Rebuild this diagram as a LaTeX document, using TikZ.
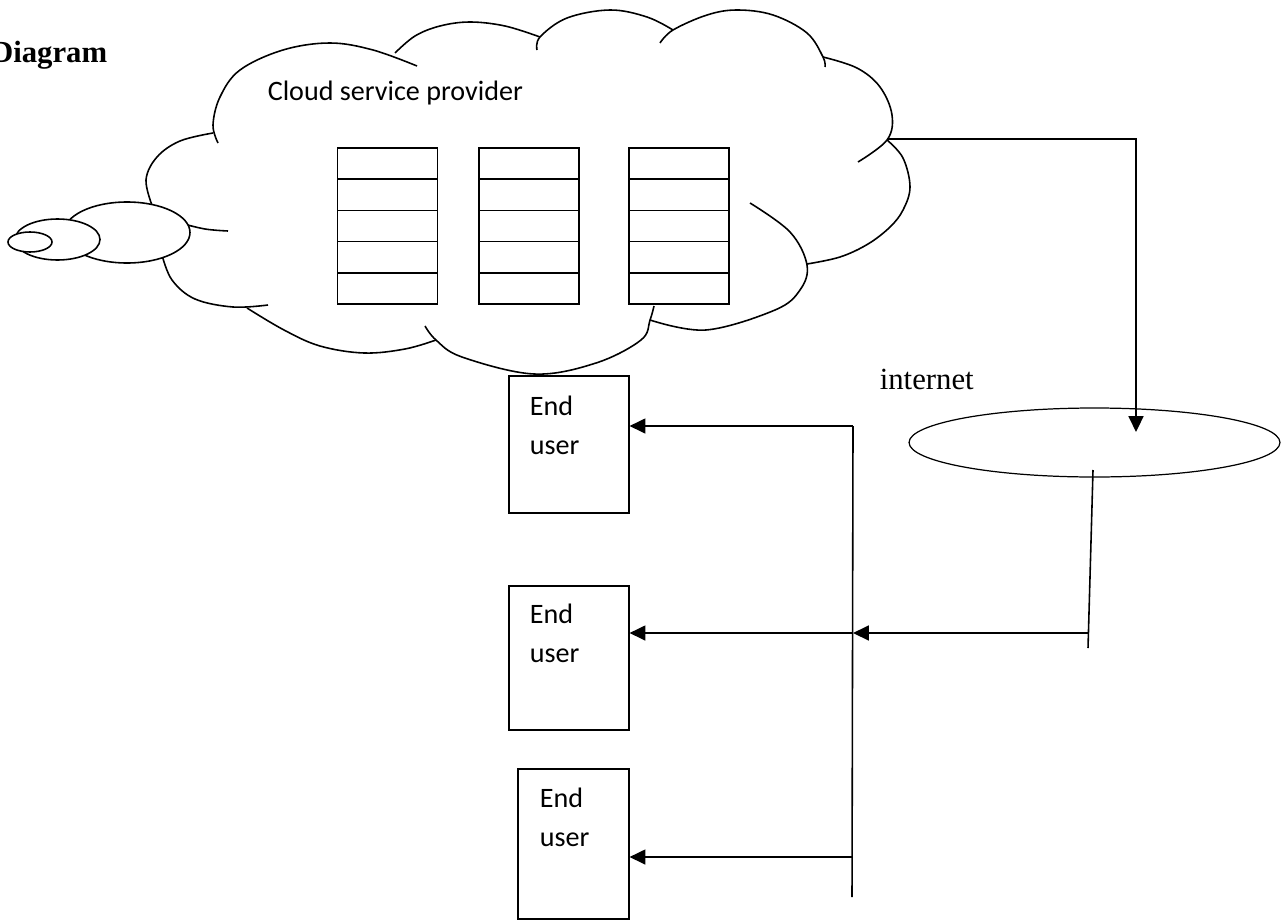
\documentclass[tikz,border=0pt]{standalone}
\usepackage{fontspec}
\setmainfont{Liberation Serif}
\newfontfamily\carlito{Carlito}
\usetikzlibrary{shapes.multipart,shapes.geometric,arrows.meta,positioning}

\begin{document}
\begin{tikzpicture}[
            x=0.02cm, y=-0.02cm,
            line width=0.9pt,
            rack/.style={draw, rectangle split, rectangle split parts=5, inner sep=0pt,
                rectangle split empty part width=1.84cm,
                rectangle split empty part height=0.592cm,
                rectangle split empty part depth=0pt},
            userbox/.style={draw, anchor=north west, align=left, inner xsep=0.42cm,
                inner ysep=0pt, text height=0.4cm, font=\carlito\fontsize{16}{22}\selectfont},
            feed/.style={-{Triangle[length=9pt,width=8.5pt]}},
            lobe/.style={smooth, tension=0.6}
        ]
        \useasboundingbox (0,0) rectangle (1283,919);

        \node[anchor=base east, inner sep=0pt, font=\bfseries\fontsize{17.5}{21}\selectfont] (title) at (108,63) {Diagram};

        % cloud outline, lobe by lobe
        \draw plot[lobe] coordinates {(218,143) (213,125) (220,97) (240,70) (283,50) (330,43) (373,50) (417,66)};
        \draw plot[lobe] coordinates {(395,53) (415,36) (440,26) (470,22) (505,26) (540,37)};
        \draw plot[lobe] coordinates {(537,50) (540,37) (567,18) (610,10) (647,17) (673,30)};
        \draw plot[lobe] coordinates {(660,43) (673,30) (707,15) (737,10) (773,15) (807,33) (823,57) (825,67)};
        \draw plot[lobe] coordinates {(823,57) (857,68) (880,87) (892,115) (887,140) (858,162)};
        \draw plot[lobe] coordinates {(887,140) (903,158) (910,187) (903,210) (890,227) (868,244) (840,257) (807,264)};
        \draw plot[lobe] coordinates {(750,203) (790,232) (807,265) (800,290) (775,310) (706,330) (650,320)};
        \draw plot[lobe] coordinates {(425,326) (436,340) (462,357) (534,374) (596,363) (641,340) (650,320) (654,306)};
        \draw plot[lobe] coordinates {(247,308) (284,330) (320,346) (364,353) (405,349) (436,340)};
        \draw plot[lobe] coordinates {(162,255) (172,280) (195,299) (233,307) (268,305)};
        \draw plot[lobe] coordinates {(153,208) (146,180) (157,157) (180,141) (213,133)};
        \draw plot[lobe] coordinates {(180,223) (205,229) (228,231)};

        % thought bubbles
        \filldraw[fill=white] (127,232.5) ellipse [x radius=63, y radius=30.5];
        \filldraw[fill=white] (57.5,239.5) ellipse [x radius=42.5, y radius=20.5];
        \filldraw[fill=white] (30,242) ellipse [x radius=22, y radius=10];

        \node[anchor=base west, inner sep=0pt, font=\carlito\fontsize{16}{22}\selectfont] (cloudname) at (267,100) {Cloud service provider};

        % servers
        \node[rack] (rack1) at (387.5,226) {};
        \node[rack, right=0.8cm of rack1] (rack2) {};
        \node[rack, right=0.96cm of rack2] (rack3) {};

        % internet
        \node[draw, ellipse, line width=0.7pt, inner sep=0pt, minimum width=7.42cm, minimum height=1.38cm] (net) at (1094.5,442.5) {};
        \node[anchor=base west, inner sep=0pt, font=\fontsize{17.5}{21}\selectfont] (netlabel) at (879,389) {internet};

        % end users
        \node[userbox, text width=1.56cm, minimum height=2.74cm, text depth=1.54cm] (user1) at (508,375) {End\\user};
        \node[userbox, text width=1.56cm, minimum height=2.88cm, text depth=1.76cm] (user2) at (508,585) {End\\user};
        \node[userbox, inner xsep=0.44cm, text width=1.34cm, minimum height=3cm, text depth=1.84cm] (user3) at (517,768) {End\\user};

        \coordinate (cloudport) at (887,139);
        \coordinate (netin) at (1136,432);
        \coordinate (netout) at (1093,470);
        \coordinate (netfoot) at (1088,648);
        \coordinate (netturn) at (1088,633);
        \coordinate (bustop) at (853,426);
        \coordinate (busmid) at (853,633);
        \coordinate (buslow) at (853,857);
        \coordinate (busend) at (852,897);

        \draw[feed] (cloudport) -| (netin);
        \draw (netout) -- (netfoot);
        \draw[feed] (netturn) -- (busmid);
        \draw (bustop) -- (busend);
        \draw[feed] (bustop) -- (bustop -| user1.east);
        \draw[feed] (busmid) -- (busmid -| user2.east);
        \draw[feed] (buslow) -- (buslow -| user3.east);

        \end{tikzpicture}
\end{document}
